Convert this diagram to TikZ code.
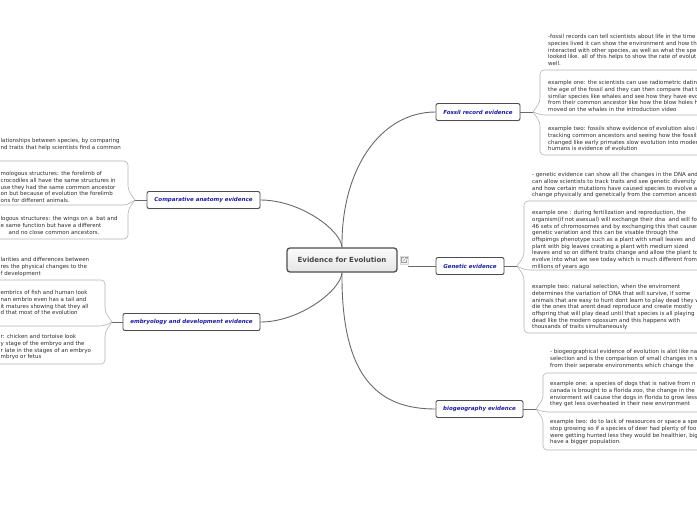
\documentclass[tikz,border=0pt]{standalone}
\usepackage{fontspec}
\setmainfont{DejaVu Sans}
\usetikzlibrary{positioning,shadows,calc}
\definecolor{linkgray}{RGB}{105,105,105}
\definecolor{leafgray}{RGB}{178,178,178}
\definecolor{topicblue}{RGB}{28,28,168}
\definecolor{boxedge}{RGB}{78,78,78}
\definecolor{notetext}{RGB}{45,45,45}
\tikzset{
  rootbox/.style={draw=boxedge,line width=1.3pt,rounded corners=3pt,
                  top color=gray!3,bottom color=gray!20,
                  minimum width=110pt,minimum height=24pt,text=black!72,
                  font=\fontsize{7}{8.5}\selectfont\bfseries},
  topicbox/.style={draw=boxedge,line width=0.9pt,rounded corners=2pt,fill=white,
                   minimum height=17pt,inner sep=0pt,text=topicblue,
                   font=\fontsize{5.5}{6.5}\selectfont\bfseries\itshape,
                   drop shadow={opacity=0.2,shadow xshift=0.6pt,shadow yshift=-0.8pt}},
  note/.style={anchor=north west,inner sep=0pt,align=left,text=notetext,
               font=\fontsize{5.5}{6.7}\selectfont},
  conn/.style={draw=linkgray,line width=0.9pt},
  leafline/.style={draw=leafgray,line width=0.6pt,rounded corners=4pt},
  linkglyph/.style={draw=gray!75,line width=0.45pt},
}

\begin{document}
\begin{tikzpicture}[x=1pt,y=-1pt]
  \useasboundingbox (0,0) rectangle (697,520);
  \clip (0,0) rectangle (697,520);

  % central topic and main branches
  \node[rootbox] (root) at (342,260) {Evidence for Evolution};
  \node[fill=gray!12,draw=gray!30,line width=0.3pt,minimum size=8pt,inner sep=0pt]
        (link) at (404,260) {};
  \node[topicbox,minimum width=84pt]  (fossil) at (478,112) {Fossil record evidence};
  \node[topicbox,minimum width=68pt]  (gen)    at (470,266) {Genetic evidence};
  \node[topicbox,minimum width=87pt]  (bio)    at (479.5,409) {biogeography evidence};
  \node[topicbox,minimum width=113pt] (comp)   at (203.5,200) {Comparative anatomy evidence};
  \node[topicbox,minimum width=137pt] (emb)    at (191.5,322) {embryology and development evidence};

  \draw[linkglyph] ($(link.center)+(0.3,-2.6)$) -| ($(link.center)+(-2.6,2.6)$) -| ($(link.center)+(2.6,-0.3)$);
  \draw[linkglyph] ($(link.center)+(-0.6,0.6)$) -- ($(link.center)+(2.8,-2.8)$);
  \draw[linkglyph] ($(link.center)+(1,-2.8)$) -- ($(link.center)+(2.8,-2.8)$) -- ($(link.center)+(2.8,-1)$);

  \draw[conn] (root.north) .. controls (341,170) and (380,112) .. (fossil.west);
  \draw[conn] (link.east |- gen.west) -- (gen.west);
  \draw[conn] (root.south) .. controls (341,380) and (380,409) .. (bio.west);
  \draw[conn] (comp.east) .. controls (300,200) and (341,230) .. (root.north);
  \draw[conn] (emb.east) .. controls (300,322) and (341,290) .. (root.south);

  % junctions of the notes
  \coordinate (fj) at (533,112);
  \coordinate (gj) at (517,266);
  \coordinate (bj) at (536,409);
  \coordinate (cj) at (135,200);
  \coordinate (ej) at (112,322);
  \draw[conn] (fossil.east) -- (fj);
  \draw[conn] (gen.east) -- (gj);
  \draw[conn] (bio.east) -- (bj);
  \draw[conn] (comp.west) -- (cj);
  \draw[conn] (emb.west) -- (ej);

  \draw[leafline] (fj) -- ++(7,-10) |- (700,70);
  \draw[leafline] (fj) -- ++(7,10) |- (700,155);
  \draw[leafline] (fj) -- ++(8,3) -- (700,115);
  \draw[leafline] (gj) -- ++(7,-10) |- (700,201);
  \draw[leafline] (gj) -- ++(7,10) |- (700,333);
  \draw[leafline] (gj) -- ++(8,4) -- (700,270);
  \draw[leafline] (bj) -- ++(7,-10) |- (700,373);
  \draw[leafline] (bj) -- ++(7,10) |- (700,450);
  \draw[leafline] (bj) -- ++(8,3) -- (700,412);
  \draw[leafline] (cj) -- ++(-7,-10) |- (-3,161);
  \draw[leafline] (cj) -- ++(-7,10) |- (-3,239);
  \draw[leafline] (cj) -- ++(-8,5) -- (-3,205);
  \draw[leafline] (ej) -- ++(-7,-10) |- (-3,280);
  \draw[leafline] (ej) -- ++(-7,10) |- (-3,364);
  \draw[leafline] (ej) -- ++(-8,4) -- (-3,326);

  % fossil record notes
  \node[note] (f1) at (548,34.3) {-fossil records can tell scientists about life in the time\\
    species lived it can show the environment and how th\\
    interacted with other species, as well as what the spe\\
    looked like. all of this helps to show the rate of evolut\\
    well.};
  \node[note] (f2) at (548,80.3) {example one: the scientists can use radiometric dating\\
    the age of the fossil and they can then compare that t\\
    similar species like whales and see how they have evo\\
    from their common ancestor like how the blow holes h\\
    moved on the whales in the introduction video};
  \node[note] (f3) at (548,126.3) {example two: fossils show evidence of evolution also l\\
    tracking common ancestors and seeing how the fossils\\
    changed like early primates slow evolution into moder\\
    humans is evidence of evolution};

  % genetic notes
  \node[note] (g1) at (532,172.3) {- genetic evidence can show all the changes in the DNA and\\
    can allow scientists to track traits and see genetic diversity\\
    and how certain mutations have caused species to evolve a\\
    change physically and genetically from the common ancesto};
  \node[note] (g2) at (532,210.3) {example one : during fertilization and reproduction, the\\
    organism(if not asexual) will exchange their dna\ \ and will fo\\
    46 sets of chromosomes and by exchanging this that causes\\
    genetic variation and this can be visable through the\\
    offspimgs phenotype such as a plant with small leaves and\\
    plant with big leaves creating a plant with medium sized\\
    leaves and so on diffent traits change and allow the plant to\\
    evolve into what we see today which is much different from\\
    millions of years ago};
  \node[note] (g3) at (532,284.3) {example two: natural selection, when the enviroment\\
    determines the variation of DNA that will survive, if some\\
    animals that are easy to hunt dont learn to play dead they w\\
    die the ones that arent dead reproduce and create mostly\\
    offspring that will play dead until that species is all playing\\
    dead like the modern opossum and this happens with\\
    thousands of traits simultaneously};

  % biogeography notes
  \node[note] (b1) at (550,349.3) {- biogeographical evidence of evolution is alot like na\\
    selection and is the comparison of small changes in s\\
    from their seperate environments which change the};
  \node[note] (b2) at (550,381.3) {example one: a species of dogs that is native from n\\
    canada is brought to a florida zoo, the change in the\\
    enviorment will cause the dogs in florida to grow less\\
    they get less overheated in their new environment};
  \node[note] (b3) at (550,419.3) {example two: do to lack of reasources or space a spe\\
    stop growing so if a species of deer had plenty of foo\\
    were getting hunted less they would be healthier, big\\
    have a bigger population.};

  % comparative anatomy notes
  \node[note] (c1) at (0.5,138.3) {lationships between species, by comparing\\
    nd traits that help scientists find a common};
  \node[note] (c2) at (0.5,171.3) {mologous structures: the forelimb of\\
    crocodiles all have the same structures in\\
    use they had the same common ancestor\\
    on but because of evolution the forelimb\\
    ons for different animals.};
  \node[note] (c3) at (0.5,216.3) {logous structures: the wings on a\ \ bat and\\
    e same function but have a different\\
    \hspace{8pt}and no close common ancestors.};

  % embryology notes
  \node[note] (e1) at (0.5,257.3) {larities and differences between\\
    res the physical changes to the\\
    f development};
  \node[note] (e2) at (0.5,290.3) {embrics of fish and human look\\
    nan embrio even has a tail and\\
    it matures showing that they all\\
    d that most of the evolution};
  \node[note] (e3) at (0.5,334.3) {r: chicken and tortoise look\\
    y stage of the embryo and the\\
    r late in the stages of an embryo\\
    mbryo or fetus};
\end{tikzpicture}
\end{document}
